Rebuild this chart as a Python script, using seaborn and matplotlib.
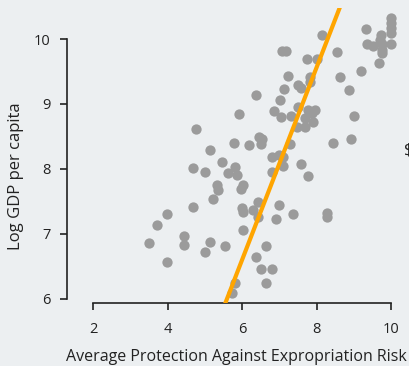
import numpy as np
import pandas as pd
import matplotlib
matplotlib.use("Agg")
import matplotlib.pyplot as plt
import seaborn as sns

# average protection against expropriation risk
avexpr = [3.50, 3.72, 3.99, 4.44, 4.44, 3.99, 4.68, 5.01, 5.14, 5.54,
          5.22, 4.77, 5.14, 4.68, 5.01, 5.46, 5.79, 5.81, 5.62, 5.87,
          5.33, 5.36, 6.03, 5.92, 6.03, 5.97, 6.00, 6.03, 6.30, 6.43,
          6.43, 6.99, 6.91, 7.37, 8.28, 8.28, 6.64, 6.38, 6.51, 6.81,
          6.64, 5.81, 5.73, 6.19, 6.46, 6.54, 6.51, 7.29, 6.99, 6.81,
          7.10, 7.10, 6.81, 7.58, 7.77, 6.38, 6.86, 7.05, 7.32, 7.50,
          7.77, 7.96, 7.88, 7.69, 7.91, 7.48, 7.69, 7.13, 7.02, 7.24,
          7.50, 7.58, 7.83, 7.83, 7.74, 8.01, 7.07, 7.18, 8.15, 8.55,
          8.63, 8.87, 9.19, 9.01, 8.93, 8.44, 10.00, 10.00, 10.00, 10.00,
          9.73, 9.70, 9.33, 9.36, 9.52, 9.76, 10.00, 9.76, 9.76, 9.68]
# log GDP per capita
logpgp = [6.86, 7.14, 7.31, 6.97, 6.83, 6.57, 7.42, 6.72, 6.88, 6.82,
          7.54, 8.62, 8.29, 8.02, 7.95, 8.11, 8.40, 8.03, 7.94, 7.91,
          7.75, 7.68, 7.06, 8.85, 7.75, 7.69, 7.40, 7.34, 7.37, 7.49,
          7.26, 7.45, 7.23, 7.31, 7.32, 7.26, 6.82, 6.65, 6.46, 6.46,
          6.25, 6.25, 6.09, 8.37, 8.49, 8.46, 8.38, 8.38, 8.22, 8.18,
          8.18, 8.05, 7.95, 8.08, 7.89, 9.14, 8.89, 8.80, 8.82, 8.95,
          8.91, 8.91, 8.86, 8.78, 8.72, 8.65, 8.65, 9.23, 9.06, 9.43,
          9.29, 9.25, 9.42, 9.34, 9.69, 9.69, 9.82, 9.82, 10.06, 9.80,
          9.42, 9.22, 9.51, 8.82, 8.46, 8.40, 10.32, 10.25, 10.17, 10.09,
          10.06, 9.98, 10.15, 9.92, 9.89, 9.92, 9.92, 9.83, 9.78, 9.63]

# fitted line
intercept = -2.28
slope = 1.48

x_ticks = [2, 4, 6, 8, 10]
y_ticks = [6, 7, 8, 9, 10]

bg = "#ECEFF1"
sns.set_theme(style="ticks", rc={"axes.facecolor": bg, "figure.facecolor": bg})
plt.rcParams["font.family"] = ["Open Sans", "DejaVu Sans"]

df = pd.DataFrame({"avexpr": avexpr, "logpgp95": logpgp})

W, H = 410, 366
fig = plt.figure(figsize=(W / 100, H / 100), dpi=100)
# axes box in pixels: left 67, right 410, top 8, bottom 303
ax = fig.add_axes([67 / W, 1 - 303 / H, (410 - 67) / W, (303 - 8) / H])

sns.scatterplot(data=df, x="avexpr", y="logpgp95", color="#9B9B9B",
                s=55, linewidth=0, alpha=1, ax=ax, zorder=2)

ax.set_xlim(1.30, 10.51)
ax.set_ylim(5.938, 10.477)
xs = np.array(ax.get_xlim())
ax.plot(xs, intercept + slope * xs, color="#FFA500", lw=3, zorder=3)

ax.set_xticks(x_ticks)
ax.set_yticks(y_ticks)
ax.tick_params(labelsize=10.5, length=5, width=1.2, color="#222222",
               labelcolor="#222222")
ax.tick_params(axis="x", pad=9)
ax.tick_params(axis="y", pad=7)
sns.despine(ax=ax)
ax.spines["left"].set_bounds(6, 10)
ax.spines["bottom"].set_bounds(2, 10)
for s in ("left", "bottom"):
    ax.spines[s].set_linewidth(1.2)
    ax.spines[s].set_color("#222222")

ax.set_xlabel("Average Protection Against Expropriation Risk",
              fontsize=11.5, color="#222222")
ax.set_ylabel("Log GDP per capita", fontsize=12, color="#222222")
ax.xaxis.set_label_coords(236 / W, 1 - 349 / H, transform=fig.transFigure)
ax.yaxis.set_label_coords(24 / W, 1 - 176 / H, transform=fig.transFigure)

fig.text(404 / W, 1 - 151 / H, "$", fontsize=12, color="#222222",
         ha="left", va="center")

fig.savefig("out.png", dpi=100, facecolor=bg)
